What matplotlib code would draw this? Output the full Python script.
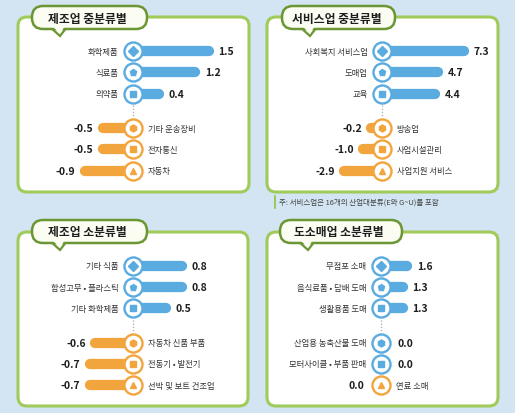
import numpy as np
import matplotlib
matplotlib.use('Agg')
import matplotlib.pyplot as plt
from matplotlib.patches import FancyBboxPatch, Polygon

plt.rcParams['font.family'] = ['Noto Sans CJK KR', 'DejaVu Sans']

# 데이터
mfg_mid_title = '제조업 중분류별'
mfg_mid_names = ['화학제품', '식료품', '의약품', '기타 운송장비', '전자통신', '자동차']
mfg_mid_values = [1.5, 1.2, 0.4, -0.5, -0.5, -0.9]
mfg_mid_up = [True, True, True, False, False, False]

svc_mid_title = '서비스업 중분류별'
svc_mid_names = ['사회복지 서비스업', '도매업', '교육', '방송업', '사업시설관리', '사업지원 서비스']
svc_mid_values = [7.3, 4.7, 4.4, -0.2, -1.0, -2.9]
svc_mid_up = [True, True, True, False, False, False]

mfg_sub_title = '제조업 소분류별'
mfg_sub_names = ['기타 식품', '합성고무 • 플라스틱', '기타 화학제품', '자동차 신품 부품', '전동기 • 발전기', '선박 및 보트 건조업']
mfg_sub_values = [0.8, 0.8, 0.5, -0.6, -0.7, -0.7]
mfg_sub_up = [True, True, True, False, False, False]

ret_sub_title = '도소매업 소분류별'
ret_sub_names = ['무점포 소매', '음식료품 • 담배 도매', '생활용품 도매', '산업용 농축산물 도매', '모터사이클 • 부품 판매', '연료 소매']
ret_sub_values = [1.6, 1.3, 1.3, 0.0, 0.0, 0.0]
ret_sub_up = [True, True, True, True, True, False]

note = '주: 서비스업은 16개의 산업대분류(E와 G~U)를 포함'

# 색
BG = '#d3e5f3'
BLUE = '#5aabe0'
ORANGE = '#f2a53d'
GREEN = '#a0ca5a'
DKGREEN = '#6a9634'
W, H = 515, 414

fig = plt.figure(figsize=(W / 100, H / 100), dpi=100)
fig.patch.set_facecolor(BG)
bg = fig.add_axes([0, 0, 1, 1])
bg.set_xlim(0, W)
bg.set_ylim(H, 0)
bg.axis('off')

ypos = [0, 1, 2, 3.62, 4.62, 5.62]
markers = ['D', 'p', 's', 'h', 's', '^']


def panel(box, bubble, title, cx, y0, sp, k, off, names, values, up):
    x0, t0, x1, b1 = box
    bg.add_patch(FancyBboxPatch((x0, t0), x1 - x0, b1 - t0,
                                boxstyle='round,pad=0,rounding_size=9',
                                fc='white', ec=GREEN, lw=2.2, zorder=1))
    # 말풍선
    bx0, by0, bx1, by1 = bubble
    tail = [(bx0 + 18, by1 - 2), (bx0 + 28, by1 + 7), (bx0 + 35, by1 - 2)]
    bg.add_patch(Polygon(tail, closed=True, fc='#fbfdf2', ec=DKGREEN, lw=1.6, zorder=2))
    bg.add_patch(FancyBboxPatch((bx0, by0), bx1 - bx0, by1 - by0,
                                boxstyle='round,pad=0,rounding_size=11',
                                fc='#fbfdf2', ec=DKGREEN, lw=1.8, zorder=3))
    cover = [(bx0 + 20, by1 - 3), (bx0 + 28, by1 + 4.5), (bx0 + 33, by1 - 3)]
    bg.add_patch(Polygon(cover, closed=True, fc='#fbfdf2', ec='none', zorder=4))
    bg.text((bx0 + bx1) / 2 - 2, (by0 + by1) / 2 + 0.5, title, ha='center', va='center',
            fontsize=8.5, fontweight='bold', color='#1e1e1e', zorder=5)

    # 막대 영역 축 (x: 값, y: 행)
    ax = fig.add_axes([x0 / W, 1 - b1 / H, (x1 - x0) / W, (b1 - t0) / H])
    ax.set_xlim((x0 - cx) / k, (x1 - cx) / k)
    ax.set_ylim((b1 - y0) / sp, (t0 - y0) / sp)
    ax.axis('off')
    ax.patch.set_alpha(0)

    for i, (name, v, u) in enumerate(zip(names, values, up)):
        y = ypos[i]
        col = BLUE if u else ORANGE
        s = 1 if u else -1
        blen = off + k * abs(v)
        if blen > 5:
            ax.plot([0, s * (blen - 5) / k], [y, y], color=col, lw=7.4,
                    solid_capstyle='round', zorder=2)
        ax.plot(0, y, 'o', ms=13, mfc='white', mec=col, mew=1.7, zorder=3)
        ax.plot(0, y, markers[i], ms=5, color=col, zorder=4)
        txt = f'{v:.1f}'
        if u:
            ax.annotate(txt, (max(blen, 12) / k, y), xytext=(3.5, 0), textcoords='offset points',
                        ha='left', va='center', fontsize=7.5, fontweight='bold', color='#1e1e1e')
            ax.annotate(name, (0, y), xytext=(-10.5, 0), textcoords='offset points',
                        ha='right', va='center', fontsize=6, color='#333333')
        else:
            ax.annotate(txt, (-max(blen, 12) / k, y), xytext=(-3, 0), textcoords='offset points',
                        ha='right', va='center', fontsize=7.5, fontweight='bold', color='#1e1e1e')
            ax.annotate(name, (0, y), xytext=(10.5, 0), textcoords='offset points',
                        ha='left', va='center', fontsize=6, color='#333333')
    # 구분 점선
    ax.plot([0, 0], [2.55, 3.08], color='#aaaaaa', lw=0.9, ls=(0, (1, 1.5)), zorder=1)


panel((18, 18, 249, 193), (32, 7, 147, 30), mfg_mid_title, 133, 52, 21.3, 45, 13,
      mfg_mid_names, mfg_mid_values, mfg_mid_up)
panel((267, 18, 498, 193), (282, 7, 395, 30), svc_mid_title, 382, 52, 21.3, 10, 14,
      svc_mid_names, svc_mid_values, svc_mid_up)
panel((18, 233, 248, 407), (32, 221, 147, 244), mfg_sub_title, 133, 267, 21.2, 55, 10,
      mfg_sub_names, mfg_sub_values, mfg_sub_up)
panel((267, 233, 498, 407), (280, 221, 402, 244), ret_sub_title, 381, 267, 21.2, 15, 7,
      ret_sub_names, ret_sub_values, ret_sub_up)

bg.plot([275, 275], [197, 209], color='#8cc43f', lw=1.2)
bg.text(279, 203, note, ha='left', va='center', fontsize=5.4, color='#444444')

fig.savefig('out.png', dpi=100, facecolor=BG)
